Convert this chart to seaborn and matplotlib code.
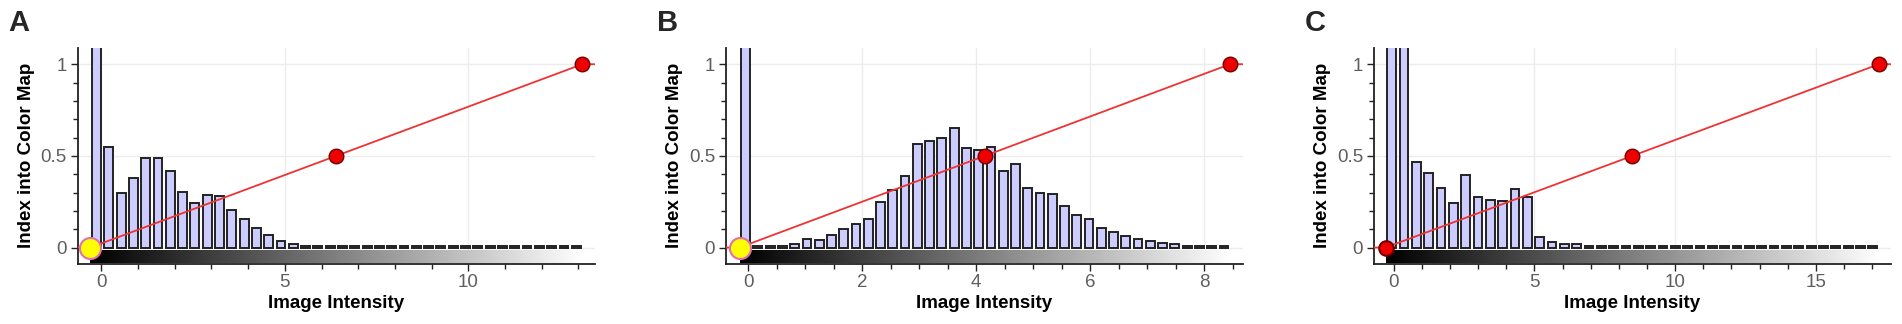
import numpy as np
import pandas as pd
import matplotlib
matplotlib.use("Agg")
import matplotlib.pyplot as plt
import seaborn as sns
from matplotlib.ticker import MultipleLocator

# ---- data (40 histogram bins per panel) ----
TALL = 5.0  # bins that run off the top of the plot

a_heights = [TALL, 0.546, 0.297, 0.381, 0.490, 0.488, 0.419, 0.304, 0.242, 0.288,
             0.282, 0.206, 0.155, 0.104, 0.067, 0.036, 0.022, 0.009, 0.008, 0.008,
             0.008, 0.008, 0.008, 0.008, 0.008, 0.008, 0.008, 0.007, 0.007, 0.007,
             0.007, 0.007, 0.007, 0.007, 0.007, 0.007, 0.006, 0.006, 0.006, 0.006]
b_heights = [TALL, 0.007, 0.007, 0.008, 0.022, 0.044, 0.043, 0.070, 0.100, 0.128,
             0.155, 0.246, 0.313, 0.390, 0.567, 0.583, 0.600, 0.652, 0.544, 0.533,
             0.550, 0.420, 0.458, 0.326, 0.300, 0.292, 0.225, 0.178, 0.153, 0.108,
             0.086, 0.062, 0.047, 0.035, 0.026, 0.018, 0.011, 0.009, 0.007, 0.006]
c_heights = [TALL, TALL, 0.466, 0.407, 0.323, 0.243, 0.398, 0.278, 0.259, 0.254,
             0.322, 0.278, 0.058, 0.028, 0.021, 0.021, 0.008, 0.008, 0.008, 0.008,
             0.009, 0.010, 0.009, 0.008, 0.008, 0.008, 0.008, 0.008, 0.008, 0.008,
             0.008, 0.008, 0.008, 0.009, 0.008, 0.008, 0.007, 0.007, 0.007, 0.007]

# transfer function control points: x positions, y is index into colour map
point_y = [0.0, 0.5, 1.0]
a_points = [-0.30, 6.40, 13.11]
b_points = [-0.15, 4.15, 8.45]
c_points = [-0.29, 8.48, 17.24]

a_ticks = [0, 5, 10]
b_ticks = [0, 2, 4, 6, 8]
c_ticks = [0, 5, 10, 15]

panel_letters = ["A", "B", "C"]

sns.set_theme(style="ticks")
plt.rcParams["font.family"] = ["Liberation Sans", "DejaVu Sans"]

W, H = 1902, 324
fig = plt.figure(figsize=(W / 100, H / 100), dpi=100)

panels = [
    dict(h=a_heights, pts=a_points, ticks=a_ticks, minor=1.0, xlim=(-0.65, 13.44),
         left=77.5, start_col="#ffff00", start_edge="#e070b0", start_s=230),
    dict(h=b_heights, pts=b_points, ticks=b_ticks, minor=0.5, xlim=(-0.387, 8.677),
         left=726, start_col="#ffff00", start_edge="#e070b0", start_s=230),
    dict(h=c_heights, pts=c_points, ticks=c_ticks, minor=1.0, xlim=(-0.70, 17.67),
         left=1374, start_col="#ee0000", start_edge="#700000", start_s=110),
]

ylim = (-0.087, 1.09)
ax_w, top_px, bot_px = 517, 47.7, 263.5

for letter, p in zip(panel_letters, panels):
    ax = fig.add_axes([p["left"] / W, (H - bot_px) / H, ax_w / W, (bot_px - top_px) / H])

    n = len(p["h"])
    lo, hi = p["pts"][0], p["pts"][-1]
    edges = np.linspace(lo, hi, n + 1)
    hist_df = pd.DataFrame({"center": (edges[:-1] + edges[1:]) / 2, "height": p["h"]})

    ax.grid(True, which="major", color="#ececec", lw=1.0, zorder=0)
    ax.set_axisbelow(True)

    sns.histplot(data=hist_df, x="center", weights="height", bins=n, binrange=(lo, hi),
                 shrink=0.72, color="#ccccff", edgecolor="#222222", linewidth=1.4,
                 alpha=1.0, ax=ax, zorder=2)

    # grey ramp showing the colour map under the histogram
    ramp = np.linspace(0, 1, 256)[None, :]
    ax.imshow(ramp, cmap="gray", aspect="auto", zorder=1,
              extent=[lo, hi, ylim[0], -0.017])

    # transfer function
    lx = [p["xlim"][0]] + p["pts"] + [p["xlim"][1]]
    ly = [point_y[0]] + point_y + [point_y[-1]]
    sns.lineplot(x=lx, y=ly, sort=False, color="#ee3333", lw=1.3, ax=ax, zorder=3)
    sns.scatterplot(x=p["pts"][1:], y=point_y[1:], s=110, color="#ee0000",
                    edgecolor="#700000", linewidth=1.0, ax=ax, zorder=4)
    sns.scatterplot(x=p["pts"][:1], y=point_y[:1], s=p["start_s"], color=p["start_col"],
                    edgecolor=p["start_edge"], linewidth=1.5, ax=ax, zorder=5)

    ax.set_xlim(*p["xlim"])
    ax.set_ylim(*ylim)
    ax.set_xticks(p["ticks"])
    ax.set_xticklabels([str(t) for t in p["ticks"]])
    ax.xaxis.set_minor_locator(MultipleLocator(p["minor"]))
    ax.set_yticks([0, 0.5, 1])
    ax.set_yticklabels(["0", "0.5", "1"])
    ax.yaxis.set_minor_locator(MultipleLocator(0.1))
    ax.tick_params(which="major", length=4.8, width=1.0, color="#222222",
                   labelsize=13.5, labelcolor="#5f5f5f", pad=3)
    ax.tick_params(which="minor", length=3.8, width=1.0, color="#222222")

    sns.despine(ax=ax)
    for s in ("left", "bottom"):
        ax.spines[s].set_linewidth(1.3)
        ax.spines[s].set_color("#222222")

    ax.set_xlabel("Image Intensity", fontsize=13.5, fontweight="bold", color="black")
    ax.set_ylabel("Index into Color Map", fontsize=13.5, fontweight="bold", color="black")
    ax.xaxis.set_label_coords(0.5, -0.145)
    ax.yaxis.set_label_coords(-0.083, 0.5)

    fig.text((p["left"] - 69) / W, 1 - 9 / H, letter, fontsize=21, fontweight="bold",
             ha="left", va="top")

fig.savefig("out.png", dpi=100)
